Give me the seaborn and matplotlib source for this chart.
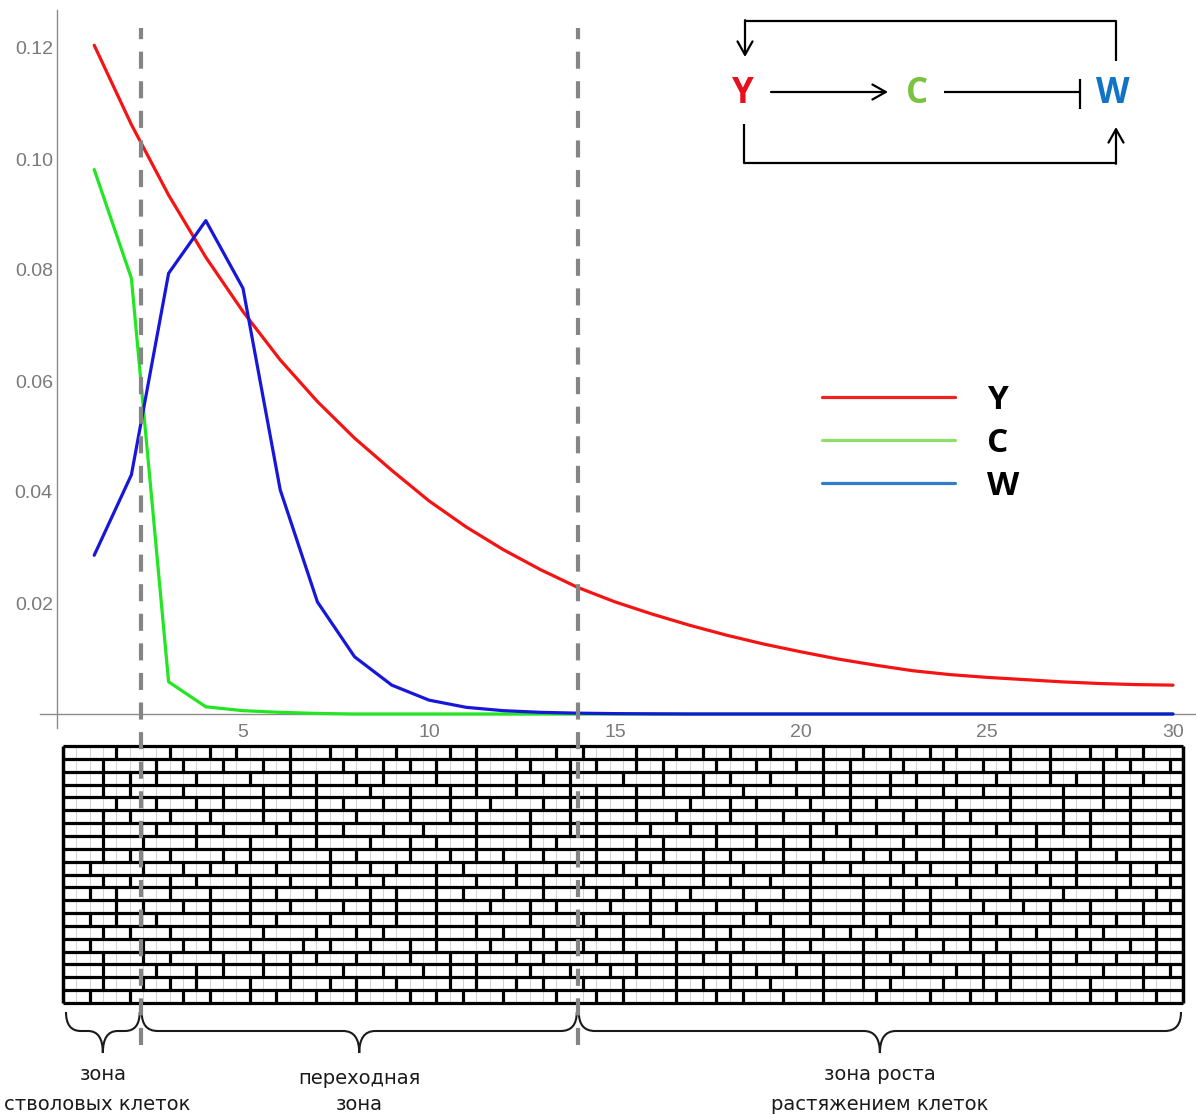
import numpy as np
import pandas as pd
import matplotlib
matplotlib.use("Agg")
import matplotlib.pyplot as plt
from matplotlib.lines import Line2D
from matplotlib.path import Path
from matplotlib.patches import PathPatch
import seaborn as sns

# --- data ---
cells = list(range(1, 31))
y_conc = [0.1205, 0.1062, 0.0935, 0.0823, 0.0725, 0.0638, 0.0563, 0.0497, 0.0439, 0.0384,
          0.0337, 0.0296, 0.0260, 0.0228, 0.0202, 0.0180, 0.0160, 0.0142, 0.0126, 0.0112,
          0.0099, 0.0088, 0.0078, 0.0071, 0.0066, 0.0062, 0.0058, 0.0055, 0.0053, 0.0052]
c_conc = [0.0981, 0.0785, 0.0058, 0.0013, 0.0006, 0.0003, 0.0001, 0.0, 0.0, 0.0,
          0.0, 0.0, 0.0, 0.0, 0.0, 0.0, 0.0, 0.0, 0.0, 0.0,
          0.0, 0.0, 0.0, 0.0, 0.0, 0.0, 0.0, 0.0, 0.0, 0.0]
w_conc = [0.0286, 0.0431, 0.0794, 0.0889, 0.0767, 0.0404, 0.0202, 0.0103, 0.0052, 0.0025,
          0.0012, 0.0006, 0.0003, 0.00015, 0.00007, 0.00003, 0.0, 0.0, 0.0, 0.0,
          0.0, 0.0, 0.0, 0.0, 0.0, 0.0, 0.0, 0.0, 0.0, 0.0]
species = ["Y", "C", "W"]
line_colors = {"Y": "#f51414", "C": "#22e622", "W": "#1717d9"}
legend_colors = ["#ee2020", "#8ee06a", "#2f7ec6"]

zone_bounds = [2.25, 14.0]
zone_top = ["зона", "переходная", "зона роста"]
zone_bottom = ["стволовых клеток", "зона", "растяжением клеток"]

y_major = [0.02, 0.04, 0.06, 0.08, 0.10, 0.12]
x_major = [5, 10, 15, 20, 25, 30]

# brick widths (in grid columns), read row by row from the left part of the cell grid
brick_pattern = [4, 4, 3, 2, 4, 3, 2, 3, 4, 2, 3, 3, 2, 4, 3, 2, 2, 3, 4, 3,
                 2, 3, 2, 4, 3, 3, 2, 2, 4, 3, 3, 2, 3, 4, 2, 3, 2, 3, 3, 4,
                 2, 2, 3, 4, 3, 2, 4, 3, 2, 3, 3]
n_rows, n_cols = 20, 84

df = pd.DataFrame({
    "cell": cells * 3,
    "value": y_conc + c_conc + w_conc,
    "species": ["Y"] * 30 + ["C"] * 30 + ["W"] * 30,
})

sns.set_theme(style="white")
plt.rcParams["font.family"] = ["Liberation Sans", "DejaVu Sans"]

W, H = 1196, 1115
fig = plt.figure(figsize=(W / 100, H / 100), dpi=100)

# overlay in pixel coordinates for the cell grid, braces, scheme
ov = fig.add_axes([0, 0, 1, 1], zorder=0)
ov.set_xlim(0, W)
ov.set_ylim(H, 0)
ov.axis("off")

ax = fig.add_axes([0, 0, 1, 1], zorder=1)
ax.patch.set_alpha(0)
XL = (-57 / 37.2, (W - 57) / 37.2)
YL = (-(H - 714) / 5550, 714 / 5550)
ax.set_xlim(*XL)
ax.set_ylim(*YL)


def xpx(x):
    return (x - XL[0]) / (XL[1] - XL[0]) * W


sns.lineplot(data=df, x="cell", y="value", hue="species", hue_order=species,
             palette=line_colors, linewidth=2.3, legend=False, ax=ax, zorder=3)
for ln in ax.lines:
    ln.set_solid_joinstyle("round")
ax.set_xlabel("")
ax.set_ylabel("")

axis_gray = "#8c8c8c"
for s in ["top", "right"]:
    ax.spines[s].set_visible(False)
ax.spines["left"].set_position(("data", 0))
ax.spines["bottom"].set_position(("data", 0))
ax.spines["left"].set_bounds(-0.0025, 0.1268)
ax.spines["bottom"].set_bounds(-0.46, XL[1])
for s in ["left", "bottom"]:
    ax.spines[s].set_color(axis_gray)
    ax.spines[s].set_linewidth(1.0)
    ax.spines[s].set_zorder(2)

ax.set_yticks(y_major)
ax.set_yticklabels([f"{v:.2f}" for v in y_major])
ax.set_yticks(np.arange(0.005, 0.1251, 0.005), minor=True)
ax.set_xticks(x_major)
ax.set_xticklabels([str(v) for v in x_major])
ax.set_xticks(cells, minor=True)
ax.tick_params(axis="both", which="both", direction="in", colors=axis_gray,
               labelcolor="#7a7a7a", labelsize=14)
ax.tick_params(axis="y", which="major", length=5, width=1, pad=3)
ax.tick_params(axis="y", which="minor", length=3, width=1)
ax.tick_params(axis="x", which="major", length=5, width=1, pad=7)
ax.tick_params(axis="x", which="minor", length=3, width=1)
ax.grid(False)

# zone boundaries
for xb in zone_bounds:
    ax.axvline(xb, ymin=1 - 1045 / H, ymax=1 - 28 / H, color="#858585",
               lw=3, linestyle=(0, (4.1, 3.0)), zorder=5)

# legend
handles = [Line2D([], [], color=c, lw=2.3) for c in legend_colors]
leg = ax.legend(handles, species, loc="center left", bbox_to_anchor=(822 / W, 1 - 443 / H),
                bbox_transform=fig.transFigure, frameon=False, borderpad=0, borderaxespad=0,
                handlelength=4.0, handletextpad=0.95, labelspacing=0.3,
                prop={"family": "Open Sans", "weight": "bold", "size": 24})
for t in leg.get_texts():
    t.set_color("black")

# --- cell grid ---
gx0, gx1, gy0, gy1 = 63, 1183, 746, 1003
cw = (gx1 - gx0) / n_cols
rh = (gy1 - gy0) / n_rows
ov.vlines([gx0 + c * cw for c in range(n_cols + 1)], gy0, gy1, color="#d2d2d2", lw=0.7)
ov.hlines([gy0 + r * rh for r in range(n_rows + 1)], gx0, gx1, color="black", lw=2.3)
for r in range(n_rows):
    k = (r * 7) % len(brick_pattern)
    pos = 0
    xs = []
    while True:
        pos += brick_pattern[k % len(brick_pattern)]
        k += 1
        if pos >= n_cols:
            break
        xs.append(gx0 + pos * cw)
    ov.vlines(xs, gy0 + r * rh, gy0 + (r + 1) * rh, color="black", lw=2.3)
ov.vlines([gx0, gx1], gy0, gy1, color="black", lw=2.5)


# --- braces under the grid ---
def brace(a, x0, x1, xm, ytop=1012, ymid=1031, ytip=1053, r=16):
    verts = [(x0, ytop), (x0, ymid), (x0 + r, ymid), (xm - r, ymid),
             (xm, ymid), (xm, ytip), (xm, ymid), (xm + r, ymid),
             (x1 - r, ymid), (x1, ymid), (x1, ytop)]
    codes = [Path.MOVETO, Path.CURVE3, Path.CURVE3, Path.LINETO,
             Path.CURVE3, Path.CURVE3, Path.CURVE3, Path.CURVE3,
             Path.LINETO, Path.CURVE3, Path.CURVE3]
    a.add_patch(PathPatch(Path(verts, codes), fill=False, lw=1.5, color="#1a1a1a"))


b0, b1 = xpx(zone_bounds[0]), xpx(zone_bounds[1])
spans = [(66, b0 - 1), (b0 + 1, b1 - 1), (b1 + 1, 1181)]
tops = [1075, 1079, 1075]
for (s0, s1), t1, t2, yt in zip(spans, zone_top, zone_bottom, tops):
    xm = (s0 + s1) / 2
    brace(ov, s0, s1, xm, r=min(16, (s1 - s0) / 5))
    ov.text(xm, yt, t1, ha="center", va="center", fontsize=14,
            family="DejaVu Sans", color="#1a1a1a")
    ov.text(xm - (6 if s0 < 100 else 0), 1104, t2, ha="center", va="center", fontsize=14,
            family="DejaVu Sans", color="#1a1a1a")

# --- regulatory scheme ---
lk = dict(color="black", lw=1.6, solid_capstyle="butt")
ah = dict(arrowstyle="->,head_length=0.8,head_width=0.45", color="black", lw=1.6,
          shrinkA=0, shrinkB=0)
node_font = dict(fontsize=25, weight="bold", family="Open Sans", ha="center", va="center")
ov.text(743, 94, "Y", color="#e8101a", **node_font)
ov.text(917, 94, "C", color="#7cc242", **node_font)
ov.text(1113, 94, "W", color="#1173c6", **node_font)
ov.annotate("", xy=(888, 92), xytext=(771, 92), arrowprops=ah)
ov.plot([944, 1080], [92, 92], **lk)
ov.plot([1080, 1080], [79, 109], **lk)
ov.plot([1116, 1116, 745], [61, 21, 21], **lk)
ov.annotate("", xy=(745, 57), xytext=(745, 20.2), arrowprops=ah)
ov.plot([744, 744, 1116], [124, 163, 163], **lk)
ov.annotate("", xy=(1116, 127), xytext=(1116, 163.8), arrowprops=ah)

fig.savefig("out.png", dpi=100)
